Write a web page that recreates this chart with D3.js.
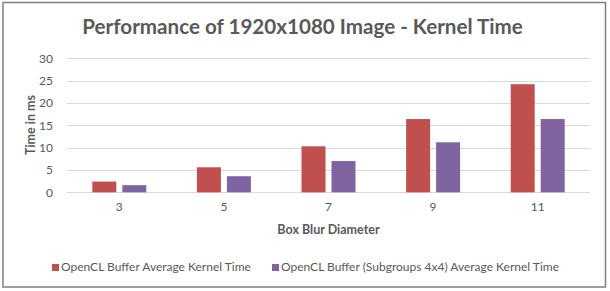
<!DOCTYPE html>
<html>
<head>
<meta charset="utf-8">
<script src="https://cdn.jsdelivr.net/npm/d3@7"></script>
<style>
  body { margin: 0; background: #fff; }
  text { font-family: Lato, "Open Sans", sans-serif; fill: #595959; }
</style>
</head>
<body>
<div id="chart"></div>
<script>
// Performance of 1920x1080 Image - Kernel Time (grouped bars)

const diameters = ['3', '5', '7', '9', '11'];
const seriesNames = ['OpenCL Buffer Average Kernel Time', 'OpenCL Buffer (Subgroups 4x4) Average Kernel Time'];
const bufferTimes = [2.4, 5.6, 10.3, 16.4, 24.2];
const subgroupTimes = [1.6, 3.6, 7.0, 11.2, 16.4];
const yTicks = [0, 5, 10, 15, 20, 25, 30];
const colors = ['#C0504D', '#8064A2'];

function createChart() {
    const width = 610, height = 291;
    const svg = d3.select('#chart').append('svg')
        .attr('width', width)
        .attr('height', height);

    // outer border
    svg.append('rect')
        .attr('x', 3).attr('y', 2.5)
        .attr('width', 602.5).attr('height', 284.5)
        .attr('fill', 'none')
        .attr('stroke', '#7f7f7f')
        .attr('stroke-width', 1.5);

    const left = 67, right = 590, top = 58.3, bottom = 192.3;

    const x0 = d3.scaleBand().domain(diameters).range([left, right]);
    const x1 = d3.scaleBand().domain(seriesNames).range([-27, 27]).paddingInner(0.2);
    const y = d3.scaleLinear().domain([0, 30]).range([bottom, top]);

    // gridlines
    svg.append('g')
        .selectAll('line')
        .data(yTicks)
        .enter().append('line')
        .attr('x1', left).attr('x2', right)
        .attr('y1', d => Math.round(y(d)) + 0.5)
        .attr('y2', d => Math.round(y(d)) + 0.5)
        .attr('stroke', '#d9d9d9')
        .attr('stroke-width', 1);

    // y axis labels
    const yAxis = svg.append('g')
        .attr('transform', `translate(${left - 14},0)`)
        .call(d3.axisLeft(y).tickValues(yTicks).tickSize(0).tickPadding(0));
    yAxis.select('.domain').remove();
    yAxis.selectAll('text')
        .style('font-family', 'Lato, sans-serif')
        .style('font-size', '12px')
        .attr('fill', '#595959');

    // bars
    const rows = diameters.map((d, i) => ({ key: d, values: [bufferTimes[i], subgroupTimes[i]] }));
    const groups = svg.append('g')
        .selectAll('g')
        .data(rows)
        .enter().append('g')
        .attr('transform', d => `translate(${x0(d.key) + x0.bandwidth() / 2},0)`);

    groups.selectAll('rect')
        .data(d => d.values.map((v, j) => ({ name: seriesNames[j], value: v, idx: j })))
        .enter().append('rect')
        .attr('x', d => x1(d.name))
        .attr('width', x1.bandwidth())
        .attr('y', d => y(d.value))
        .attr('height', d => y(0) - y(d.value))
        .attr('fill', d => colors[d.idx]);

    // x axis labels
    const xAxis = svg.append('g')
        .attr('transform', `translate(0,${bottom + 10})`)
        .call(d3.axisBottom(x0).tickSize(0).tickPadding(0));
    xAxis.select('.domain').remove();
    xAxis.selectAll('text')
        .style('font-family', 'Lato, sans-serif')
        .style('font-size', '12px')
        .attr('fill', '#595959');

    // title
    svg.append('text')
        .attr('x', 302.5)
        .attr('y', 34)
        .attr('text-anchor', 'middle')
        .style('font-size', '20.6px')
        .style('font-weight', 'bold')
        .text('Performance of 1920x1080 Image - Kernel Time');

    // axis titles
    svg.append('text')
        .attr('x', 328.5)
        .attr('y', 233.5)
        .attr('text-anchor', 'middle')
        .style('font-size', '12.5px')
        .style('font-weight', 'bold')
        .text('Box Blur Diameter');

    svg.append('text')
        .attr('transform', 'rotate(-90)')
        .attr('x', -125)
        .attr('y', 34.5)
        .attr('text-anchor', 'middle')
        .style('font-size', '12.5px')
        .style('font-weight', 'bold')
        .text('Time in ms');

    // legend
    const legendX = [52, 272];
    const legend = svg.append('g');
    seriesNames.forEach((name, i) => {
        legend.append('rect')
            .attr('x', legendX[i]).attr('y', 264)
            .attr('width', 7).attr('height', 7)
            .attr('fill', colors[i]);
        legend.append('text')
            .attr('x', legendX[i] + 9)
            .attr('y', 271)
            .style('font-size', '12px')
            .text(name);
    });
}

createChart();
</script>
</body>
</html>
